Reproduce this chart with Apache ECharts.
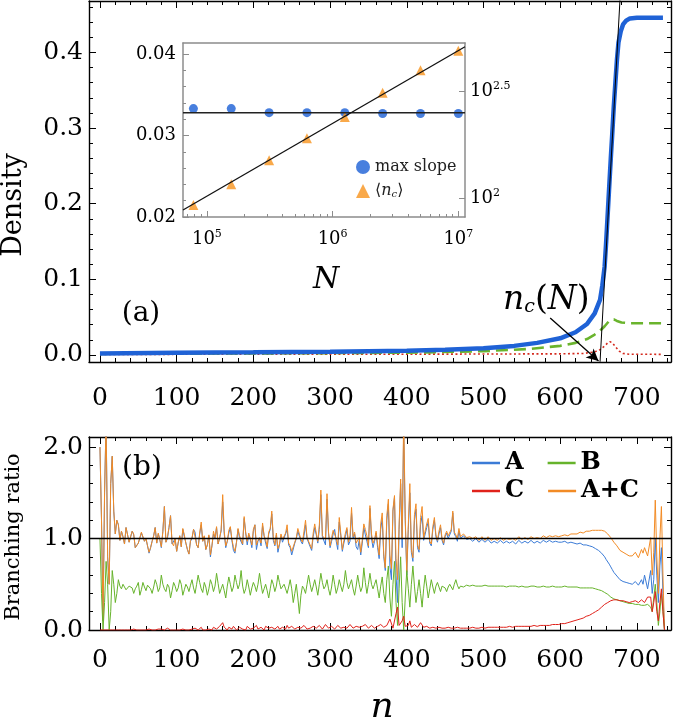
<!DOCTYPE html>
<html><head><meta charset="utf-8">
<script src="https://cdn.jsdelivr.net/npm/echarts@6/dist/echarts.min.js"></script>
<style>html,body{margin:0;padding:0;background:#fff}#c{width:675px;height:724px}</style>
</head><body><div id="c"></div>
<script>
// ---------------- DATA ----------------
// Panel (a): density vs n
const densNA = [0,100,200,300,400,450,500,540,570,600,620,635,645,652,655,658,660,663,666,668,670,672,674,676,679,682,686,691,700,734];
const densA  = [0.002,0.0028,0.0035,0.0044,0.0056,0.0068,0.009,0.012,0.016,0.022,0.03,0.041,0.055,0.073,0.092,0.117,0.15,0.205,0.26,0.294,0.33,0.36,0.39,0.413,0.428,0.437,0.442,0.445,0.446,0.446];
const densNB = [0,200,400,500,560,600,620,635,645,652,658,663,667,670,674,680,690,734];
const densB  = [0.0015,0.002,0.003,0.005,0.008,0.012,0.016,0.021,0.027,0.032,0.038,0.044,0.047,0.047,0.045,0.043,0.042,0.042];
const densNC = [0,400,600,630,645,652,658,662,665,668,672,677,682,690,734];
const densC  = [0.0008,0.001,0.0015,0.002,0.004,0.007,0.012,0.016,0.0175,0.016,0.011,0.005,0.002,0.001,0.0008];
const tangentN = [652, 678];
const tangentD = [-0.009, 0.47];
const arrowFrom = [587, 0.049];
const arrowTo = [650, -0.008];

const nTickLabels = [0,100,200,300,400,500,600,700];
const densTickLabels = [0,0.1,0.2,0.3,0.4];
const ratioTickLabels = [0,1,2];

// Inset
const insetN   = [78125,156250,312500,625000,1250000,2500000,5000000,10000000];
const maxSlope = [0.0333,0.0333,0.0328,0.0328,0.0328,0.0327,0.0327,0.0327];
const meanNc   = [92.7,115.8,150,190,239,310.5,394.6,487.5];
const slopeLevel = 0.0328;
const insetLineN = [64565, 11298000];
const ncFitVal   = [87.9, 509];
const insetXTicks = [1e5,1e6,1e7];
const insetLeftTicks = [0.02,0.03,0.04];
const insetRightTicks = [100, 316.2278];

// Panel (b): branching ratios, n = 0,2,4,...,736 (one row = 40 generations)
const ratioStep = 2;
const ratioA = [
2.0,1.2,0.1,1.5,2.3,0.8,0.5,1.6,1.9,1.3,1.05,1.2,1.15,0.98,1.08,1.02,0.94,1.12,1.1,0.96,
0.97,1.08,1.04,0.9,0.88,0.95,0.93,1.06,1.08,0.97,1.0,0.92,0.84,0.9,0.97,1.03,1.12,0.95,1.05,0.99,
0.9,1.08,1.35,0.96,1.0,1.12,1.25,0.94,0.92,1.0,0.86,0.95,1.03,0.91,1.1,1.02,0.95,0.88,0.83,0.97,
1.0,1.1,1.07,0.93,0.9,1.05,1.15,0.97,1.02,0.88,0.93,1.03,0.8,0.92,1.05,1.0,1.12,0.94,0.96,1.08,
1.4,1.05,0.9,0.97,1.06,1.12,0.98,0.87,0.84,0.96,1.1,1.0,1.02,0.93,1.22,1.06,0.93,1.04,0.99,0.9,
1.08,1.15,0.88,0.97,1.0,0.92,1.14,1.03,0.95,0.89,1.05,1.1,1.27,0.98,0.92,1.04,0.85,0.93,1.03,0.96,
0.96,1.05,1.1,0.93,0.9,0.82,0.8,0.95,1.0,1.08,1.07,0.97,0.94,1.03,1.15,1.0,0.98,0.91,0.87,1.02,
1.12,1.04,0.95,1.1,1.48,1.02,1.0,0.93,1.43,1.05,0.9,0.97,1.05,1.1,0.97,0.88,1.18,1.03,0.86,0.95,
1.02,1.1,0.93,0.97,1.28,1.0,1.05,0.91,0.88,0.98,0.82,0.95,1.12,1.04,0.97,0.9,1.33,1.0,0.9,0.97,
1.06,0.9,0.78,1.1,1.22,0.8,0.65,1.2,1.38,0.7,0.55,1.3,1.45,0.6,0.3,1.1,1.6,0.9,2.2,1.2,
0.6,1.1,1.5,0.85,0.75,1.2,1.32,0.9,0.85,1.15,1.25,0.98,1.0,1.12,1.18,0.95,0.92,1.1,1.2,1.02,
0.96,1.05,1.12,0.98,0.93,1.02,1.06,1.0,1.0,1.08,1.28,1.05,1.02,0.97,1.08,1.0,0.98,1.03,1.03,0.99,
0.97,1.0,1.02,0.97,0.96,1.0,1.01,0.96,0.95,0.99,1.0,0.96,0.96,0.99,0.99,0.95,0.94,0.97,0.98,0.95,
0.95,0.98,0.99,0.95,0.94,0.97,0.98,0.95,0.95,0.97,0.97,0.94,0.95,0.98,0.98,0.95,0.95,0.97,0.97,0.95,
0.96,0.98,0.98,0.95,0.95,0.97,0.97,0.95,0.96,0.98,0.98,0.96,0.96,0.98,0.98,0.96,0.96,0.97,0.98,0.96,
0.97,0.96,0.96,0.97,0.97,0.95,0.95,0.96,0.96,0.95,0.95,0.94,0.94,0.95,0.94,0.93,0.93,0.93,0.93,0.92,
0.92,0.91,0.9,0.89,0.88,0.87,0.85,0.84,0.82,0.8,0.77,0.75,0.72,0.69,0.66,0.63,0.61,0.59,0.57,0.55,
0.54,0.53,0.52,0.52,0.51,0.51,0.52,0.5,0.5,0.53,0.52,0.49,0.5,0.55,0.5,0.6,0.62,0.45,0.45,0.65,
0.4,0.55,1.0,0.6,0.3,0.7,0.9,0.4,0.0];
const ratioB = [
1.0,0.4,0.0,0.3,0.75,0.5,0.0,0.2,0.65,0.5,0.3,0.4,0.55,0.48,0.45,0.5,0.52,0.44,0.42,0.48,
0.5,0.46,0.4,0.45,0.48,0.52,0.38,0.44,0.52,0.47,0.43,0.49,0.5,0.45,0.4,0.47,0.55,0.5,0.42,0.46,
0.6,0.5,0.45,0.42,0.5,0.47,0.35,0.43,0.52,0.48,0.42,0.46,0.55,0.5,0.38,0.44,0.5,0.47,0.42,0.49,
0.55,0.46,0.4,0.5,0.6,0.52,0.45,0.41,0.52,0.47,0.38,0.45,0.55,0.5,0.42,0.48,0.62,0.51,0.4,0.45,
0.5,0.43,0.35,0.48,0.58,0.5,0.42,0.47,0.6,0.52,0.45,0.5,0.65,0.48,0.4,0.45,0.55,0.47,0.38,0.46,
0.52,0.48,0.42,0.5,0.62,0.5,0.4,0.45,0.5,0.43,0.35,0.45,0.55,0.5,0.42,0.48,0.6,0.52,0.45,0.47,
0.5,0.45,0.4,0.47,0.55,0.45,0.3,0.4,0.5,0.35,0.18,0.38,0.48,0.45,0.4,0.5,0.6,0.5,0.42,0.48,
0.55,0.47,0.38,0.5,0.62,0.52,0.45,0.48,0.55,0.45,0.38,0.47,0.6,0.5,0.4,0.46,0.55,0.48,0.42,0.5,
0.65,0.52,0.45,0.5,0.55,0.45,0.38,0.48,0.6,0.5,0.42,0.47,0.68,0.52,0.4,0.5,0.62,0.5,0.45,0.5,
0.55,0.45,0.35,0.48,0.58,0.4,0.3,0.55,0.7,0.35,0.15,0.5,0.75,0.3,0.05,0.45,0.8,0.3,0.0,0.35,
0.65,0.45,0.25,0.5,0.7,0.48,0.3,0.42,0.55,0.4,0.25,0.45,0.6,0.48,0.35,0.45,0.55,0.47,0.4,0.48,
0.52,0.47,0.42,0.48,0.5,0.46,0.42,0.47,0.5,0.47,0.44,0.5,0.55,0.49,0.45,0.48,0.5,0.47,0.46,0.49,
0.5,0.48,0.47,0.49,0.51,0.48,0.46,0.48,0.5,0.48,0.47,0.49,0.5,0.48,0.47,0.48,0.49,0.48,0.46,0.48,
0.5,0.48,0.47,0.48,0.49,0.47,0.46,0.48,0.49,0.48,0.47,0.48,0.49,0.47,0.47,0.48,0.48,0.47,0.46,0.47,
0.49,0.48,0.47,0.48,0.48,0.47,0.46,0.47,0.49,0.48,0.47,0.47,0.48,0.47,0.47,0.48,0.48,0.47,0.47,0.47,
0.48,0.47,0.47,0.48,0.48,0.47,0.47,0.47,0.47,0.47,0.47,0.47,0.47,0.46,0.46,0.46,0.46,0.46,0.46,0.46,
0.46,0.46,0.45,0.45,0.45,0.44,0.44,0.43,0.42,0.41,0.4,0.39,0.37,0.36,0.35,0.34,0.33,0.33,0.32,0.32,
0.31,0.31,0.3,0.3,0.3,0.29,0.29,0.29,0.29,0.28,0.28,0.28,0.28,0.27,0.28,0.27,0.27,0.28,0.3,0.25,
0.2,0.35,0.5,0.3,0.05,0.2,0.4,0.2,0.0];
const ratioC = [
0,0,0,0,0,0,0,0,0,0,0,0,0,0,0,0,0,0,0,0,
0,0,0.01,0,0,0,0,0.01,0,0,0,0,0.01,0,0,0,0,0,0.01,0,
0.01,0,0,0,0.02,0,0,0.01,0,0,0,0.01,0,0,0.01,0.02,0,0,0,0.01,
0.01,0,0.02,0,0,0.01,0.03,0,0.01,0,0,0.01,0.02,0,0.03,0.01,0.01,0,0.04,0.02,
0.08,0.03,0.02,0,0.03,0.01,0.01,0.04,0.02,0,0.01,0.03,0.03,0.01,0.02,0,0.04,0.02,0.01,0.03,
0.02,0,0.05,0.01,0.01,0.03,0.03,0,0.04,0.02,0.02,0.01,0.03,0.04,0.01,0.02,0.04,0.01,0.02,0.03,
0.03,0.01,0.05,0.02,0.02,0.04,0.04,0.01,0.01,0.03,0.03,0.02,0.02,0.05,0.05,0.01,0.03,0.02,0.02,0.04,
0.04,0.02,0.02,0.05,0.05,0.01,0.03,0.06,0.06,0.02,0.02,0.04,0.04,0.01,0.03,0.05,0.05,0.02,0.02,0.03,
0.04,0.02,0.03,0.06,0.06,0.02,0.02,0.04,0.05,0.03,0.03,0.04,0.04,0.06,0.06,0.02,0.03,0.05,0.05,0.02,
0.02,0.04,0.04,0.06,0.06,0.03,0.03,0.05,0.05,0.12,0.12,0.02,0.02,0.18,0.25,0.05,0.05,0.1,0.15,0.04,
0.03,0.05,0.1,0.03,0.04,0.06,0.06,0.03,0.03,0.08,0.1,0.03,0.03,0.04,0.04,0.02,0.02,0.03,0.03,0.02,
0.02,0.03,0.03,0.02,0.02,0.02,0.02,0.03,0.03,0.02,0.02,0.02,0.02,0.03,0.03,0.02,0.02,0.02,0.02,0.02,
0.02,0.02,0.02,0.03,0.03,0.02,0.02,0.02,0.02,0.03,0.03,0.02,0.02,0.03,0.03,0.03,0.03,0.03,0.03,0.03,
0.03,0.03,0.03,0.03,0.03,0.03,0.04,0.04,0.03,0.03,0.04,0.04,0.04,0.04,0.04,0.04,0.04,0.04,0.04,0.04,
0.04,0.04,0.05,0.05,0.04,0.04,0.05,0.05,0.05,0.05,0.05,0.05,0.05,0.05,0.06,0.06,0.06,0.06,0.06,0.06,
0.07,0.07,0.07,0.07,0.08,0.08,0.09,0.09,0.1,0.1,0.11,0.11,0.12,0.12,0.13,0.13,0.14,0.15,0.16,0.16,
0.17,0.18,0.19,0.2,0.21,0.22,0.23,0.25,0.26,0.28,0.29,0.3,0.31,0.32,0.33,0.33,0.33,0.33,0.33,0.32,
0.32,0.32,0.31,0.31,0.31,0.3,0.3,0.31,0.31,0.32,0.32,0.3,0.31,0.33,0.34,0.3,0.29,0.36,0.38,0.36,
0.2,0.3,0.42,0.2,0.1,0.3,0.45,0.2,0.0];

// ---------------- BUILD ----------------
const FONT = 'DejaVu Serif';
const L = Math.log10;
const pairs = (xs, ys) => xs.map((x, i) => [x, ys[i]]);
const stepPairs = (ys) => ys.map((y, i) => [i * ratioStep, y]);
const ratioAC = ratioA.map((a, i) => +(a + ratioC[i]).toFixed(4));
function seq(a, b, s) { const r = []; for (let k = 0; a + k * s <= b + 1e-9; k++) r.push(+(a + k * s).toFixed(6)); return r; }

const xAxes = [], yAxes = [];
function ax(g, pos, min, max, o) {
  const col = o.color || '#000';
  return {
    type: 'value', gridIndex: g, position: pos, min: min, max: max,
    splitLine: {show: false},
    axisLine: {show: !!o.line, onZero: false, lineStyle: {color: col, width: o.lw || 1.4}},
    axisTick: o.ticks ? {show: true, inside: true, length: o.len || 7, customValues: o.ticks, lineStyle: {color: col, width: 1}} : {show: false},
    axisLabel: o.labels ? Object.assign({show: true, customValues: o.labels, formatter: o.fmt, margin: o.margin,
      color: '#000', fontFamily: FONT, fontSize: o.fs}, o.labelExtra || {}) : {show: false},
    axisPointer: {show: false}
  };
}
function framePanel(g, xr, yr, p) {
  const xi = xAxes.length, yi = yAxes.length;
  xAxes.push(ax(g, 'bottom', xr[0], xr[1], {line: true, ticks: p.xMaj, labels: p.xLab, fmt: p.xFmt, margin: p.xMargin, fs: 25,
    labelExtra: {padding: [p.xPad, 0, 0, 0]}}));
  xAxes.push(ax(g, 'bottom', xr[0], xr[1], {ticks: p.xMinor, len: 4}));
  xAxes.push(ax(g, 'top', xr[0], xr[1], {line: true, ticks: p.xMaj}));
  xAxes.push(ax(g, 'top', xr[0], xr[1], {ticks: p.xMinor, len: 4}));
  yAxes.push(ax(g, 'left', yr[0], yr[1], {line: true, ticks: p.yMaj, labels: p.yLab, fmt: p.yFmt, margin: 6, fs: 25}));
  yAxes.push(ax(g, 'left', yr[0], yr[1], {ticks: p.yMinor, len: 4}));
  yAxes.push(ax(g, 'right', yr[0], yr[1], {line: true, ticks: p.yMaj}));
  yAxes.push(ax(g, 'right', yr[0], yr[1], {ticks: p.yMinor, len: 4}));
  return {x: xi, y: yi};
}
const nRange = [-14.3, 744.5];
const A = framePanel(0, nRange, [-0.0093, 0.468], {
  xMaj: nTickLabels, xLab: nTickLabels, xFmt: v => String(v), xMargin: 16, xPad: 8, xMinor: seq(0, 740, 20),
  yMaj: densTickLabels, yLab: densTickLabels, yFmt: v => v.toFixed(1), yMinor: seq(0, 0.46, 0.02)
});
const B = framePanel(1, nRange, [0, 2.11], {
  xMaj: nTickLabels, xLab: nTickLabels, xFmt: v => String(v), xMargin: 15, xPad: 3, xMinor: seq(0, 740, 20),
  yMaj: ratioTickLabels, yLab: ratioTickLabels, yFmt: v => v.toFixed(1), yMinor: seq(0, 2.1, 0.2)
});
// inset axes
const GRAY = '#8c8c8c';
const insetX = [L(insetLineN[0]), L(insetLineN[1])];
const insetYL = [0.02, 0.04135];
const insetYR = [1.911, 2.724];
const xMinorInset = [];
for (let d = 4; d <= 7; d++) for (let k = 2; k <= 9; k++) { const v = L(k * Math.pow(10, d)); if (v > insetX[0] && v < insetX[1]) xMinorInset.push(v); }
const supRich = {b: {fontFamily: FONT, fontSize: 18, color: '#000'}, s: {fontFamily: FONT, fontSize: 11, color: '#000', verticalAlign: 'top', padding: [0, 0, 9, 0]}};
const IX = xAxes.length, IY = yAxes.length;
xAxes.push(ax(2, 'bottom', insetX[0], insetX[1], {line: true, color: GRAY, lw: 1.5, ticks: insetXTicks.map(L), len: 6,
  labels: insetXTicks.map(L), fmt: v => '{b|10}{s|' + Math.round(v) + '}', margin: 12, fs: 18, labelExtra: {rich: supRich}}));
xAxes.push(ax(2, 'bottom', insetX[0], insetX[1], {ticks: xMinorInset, len: 3, color: GRAY}));
xAxes.push(ax(2, 'top', insetX[0], insetX[1], {line: true, color: GRAY, lw: 1.5}));
yAxes.push(ax(2, 'left', insetYL[0], insetYL[1], {line: true, color: GRAY, lw: 1.5, ticks: insetLeftTicks, len: 6,
  labels: insetLeftTicks, fmt: v => v.toFixed(2), margin: 7, fs: 18}));
yAxes.push(ax(2, 'left', insetYL[0], insetYL[1], {ticks: seq(0.02, 0.04, 0.002), len: 3, color: GRAY}));
yAxes.push(ax(2, 'right', insetYR[0], insetYR[1], {line: true, color: GRAY, lw: 1.5, ticks: insetRightTicks.map(L), len: 6,
  labels: insetRightTicks.map(L), fmt: v => '{b|10}{s|' + (Math.round(v * 10) / 10) + '}', margin: 5, fs: 18, labelExtra: {rich: supRich}}));

const cA = '#3b7bd6', cB = '#66b32b', cC = '#e0221b', cAC = '#f28b25';
const lineS = (name, data, xi, yi, style, extra) => Object.assign({
  type: 'line', name: name, data: data, xAxisIndex: xi, yAxisIndex: yi, showSymbol: false, symbol: 'none',
  lineStyle: style, silent: true, animation: false
}, extra || {});

const series = [
  // panel (a)
  lineS('C density', pairs(densNC, densC), A.x, A.y, {color: '#d42a1e', width: 1.6, type: [2, 2.5]}),
  lineS('B density', pairs(densNB, densB), A.x, A.y, {color: '#6ab42d', width: 2.6, type: [12, 6]}),
  lineS('A density', pairs(densNA, densA), A.x, A.y, {color: '#1f62d6', width: 4.5}),
  lineS('tangent', pairs(tangentN, tangentD), A.x, A.y, {color: '#000', width: 1}, {
    markLine: {silent: true, symbol: ['none', 'arrow'], symbolSize: [9, 12], label: {show: false},
      lineStyle: {color: '#000', width: 1.3, type: 'solid'},
      data: [[{coord: arrowFrom}, {coord: arrowTo}]], animation: false}
  }),
  // inset
  lineS('level', pairs(insetLineN.map(L), [slopeLevel, slopeLevel]), IX, IY, {color: '#222', width: 1.6}),
  lineS('fit', pairs(insetLineN.map(L), ncFitVal.map(L)), IX, IY + 2, {color: '#111', width: 1.3}),
  {type: 'scatter', name: 'max slope', data: pairs(insetN.map(L), maxSlope), xAxisIndex: IX, yAxisIndex: IY,
    symbol: 'circle', symbolSize: 9, itemStyle: {color: '#1a5fd6'}, silent: true, animation: false},
  {type: 'scatter', name: 'nc', data: pairs(insetN.map(L), meanNc.map(L)), xAxisIndex: IX, yAxisIndex: IY + 2,
    symbol: 'triangle', symbolSize: 10, itemStyle: {color: '#f7941d'}, silent: true, animation: false},
  // panel (b)
  lineS('A', stepPairs(ratioA), B.x, B.y, {color: cA, width: 1}, {itemStyle: {color: cA}}),
  lineS('A+C', stepPairs(ratioAC), B.x, B.y, {color: cAC, width: 1}, {itemStyle: {color: cAC}}),
  lineS('B', stepPairs(ratioB), B.x, B.y, {color: cB, width: 1}, {itemStyle: {color: cB}}),
  lineS('C', stepPairs(ratioC), B.x, B.y, {color: cC, width: 1}, {itemStyle: {color: cC},
    markLine: {silent: true, symbol: 'none', label: {show: false}, lineStyle: {color: '#000', width: 1.3, type: 'solid'},
      data: [{yAxis: 1}], animation: false}})
];

const bLegText = {fontFamily: FONT, fontWeight: 'bold', fontSize: 24, color: '#000'};
const option = {
  animation: false,
  backgroundColor: '#fff',
  grid: [
    {left: 89, top: 1, width: 582, height: 361},
    {left: 89, top: 437, width: 582, height: 193},
    {left: 183, top: 43, width: 282, height: 174, show: true, backgroundColor: '#fff', borderWidth: 0}
  ],
  xAxis: xAxes,
  yAxis: yAxes,
  legend: [
    {data: ['max slope', 'nc'], orient: 'vertical', left: 351, top: 154, itemGap: 8, itemWidth: 14, itemHeight: 14,
      textStyle: {fontFamily: FONT, fontSize: 16, color: '#222',
        rich: {i: {fontFamily: FONT, fontStyle: 'italic', fontSize: 16, color: '#222'}, s: {fontFamily: FONT, fontStyle: 'italic', fontSize: 10, color: '#222', verticalAlign: 'bottom', padding: [6, 0, 0, 0]}}},
      formatter: n => n === 'nc' ? '⟨{i|n}{s|c}⟩' : n, selectedMode: false},
    {data: ['A', 'B'], left: 467, top: 446, icon: 'rect', itemWidth: 28, itemHeight: 2.5, itemGap: 24, textStyle: bLegText, selectedMode: false},
    {data: ['C', 'A+C'], left: 467, top: 474, icon: 'rect', itemWidth: 28, itemHeight: 2.5, itemGap: 24, textStyle: bLegText, selectedMode: false}
  ],
  graphic: [
    {type: 'text', x: 141, y: 314, style: {text: '(a)', fontFamily: FONT, fontSize: 28, fill: '#000', align: 'center', verticalAlign: 'middle'}},
    {type: 'text', x: 142, y: 468, style: {text: '(b)', fontFamily: FONT, fontSize: 28, fill: '#000', align: 'center', verticalAlign: 'middle'}},
    {type: 'text', x: 14, y: 205, rotation: Math.PI / 2, style: {text: 'Density', fontFamily: FONT, fontSize: 27, fill: '#000', align: 'center', verticalAlign: 'middle'}},
    {type: 'text', x: 14, y: 537, rotation: Math.PI / 2, style: {text: 'Branching ratio', fontFamily: FONT, fontSize: 21, fill: '#000', align: 'center', verticalAlign: 'middle'}},
    {type: 'text', x: 382, y: 708, style: {text: 'n', fontFamily: FONT, fontStyle: 'italic', fontSize: 36, fill: '#000', align: 'center', verticalAlign: 'middle'}},
    {type: 'text', x: 326, y: 280, style: {text: 'N', fontFamily: FONT, fontStyle: 'italic', fontSize: 30, fill: '#000', align: 'center', verticalAlign: 'middle'}},
    {type: 'text', x: 503, y: 300, style: {text: '{i|n}{s|c}{r|(}{i|N}{r|)}', align: 'left', verticalAlign: 'middle',
      rich: {i: {fontFamily: FONT, fontStyle: 'italic', fontSize: 33, fill: '#000', color: '#000'},
             r: {fontFamily: FONT, fontSize: 33, fill: '#000', color: '#000'},
             s: {fontFamily: FONT, fontStyle: 'italic', fontSize: 19, fill: '#000', color: '#000', verticalAlign: 'bottom', padding: [14, 0, 0, 0]}}}}
  ],
  series: series
};
const chart = echarts.init(document.getElementById('c'), null, {renderer: 'canvas'});
chart.setOption(option);
</script></body></html>
